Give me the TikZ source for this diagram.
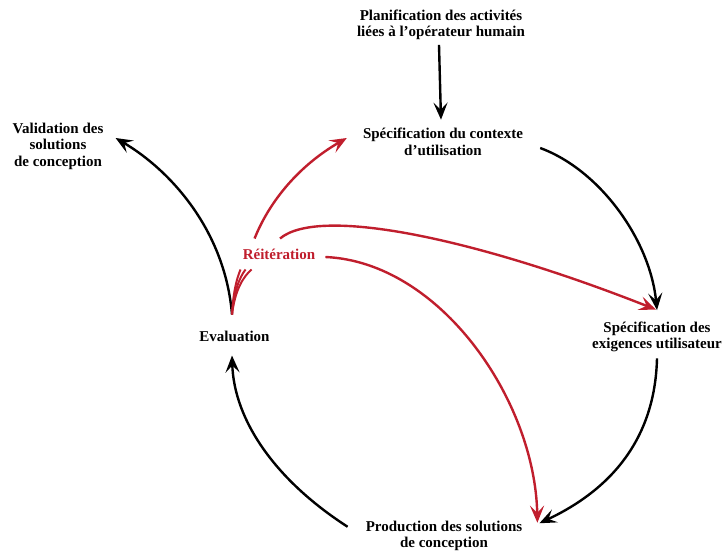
\documentclass[tikz,border=0pt]{standalone}
\usepackage{fontspec}
\setmainfont{Liberation Serif}
\usetikzlibrary{arrows.meta}
\definecolor{reitc}{RGB}{192,30,45}
\begin{document}
\begin{tikzpicture}[x=1pt,y=-1pt,
  lbl/.style={font=\bfseries\fontsize{15}{16.5}\selectfont, align=center, inner sep=0pt},
  arr/.style={line width=2.4pt, -{Stealth[length=17pt,width=14pt,inset=7pt]}},
  redarr/.style={arr, draw=reitc},
  redln/.style={line width=2pt, draw=reitc},
]
\useasboundingbox (0,0) rectangle (724,554);
\node[lbl] (plan) at (441,25) {Planification des activités\\liées à l’opérateur humain};
\node[lbl] (ctx) at (443,142) {Spécification du contexte\\d’utilisation};
\node[lbl] (exi) at (657,337) {Spécification des\\exigences utilisateur};
\node[lbl] (prod) at (444,536) {Production des solutions\\de conception};
\node[lbl] (eval) at (234.5,336) {Evaluation};
\node[lbl] (valid) at (58,146) {Validation des\\solutions\\de conception};
\node[lbl, text=reitc, inner sep=10pt] (reit) at (279,254) {Réitération};
% black cycle
\draw[arr] ([xshift=-2pt,yshift=-4.5pt]plan.south) -- ([xshift=-2pt,yshift=8.5pt]ctx.north);
\draw[arr] ([xshift=17pt,yshift=-6pt]ctx.east) .. controls (600,170) and (650,240) .. ([yshift=11.5pt]exi.north);
\draw[arr] ([yshift=-6pt]exi.south) .. controls (655,440) and (610,490) .. ([xshift=17pt,yshift=-2.5pt]prod.north east);
\draw[arr] ([xshift=-18pt,yshift=-6pt]prod.north west) .. controls (275,480) and (234,420) .. ([xshift=-2.5pt,yshift=-14pt]eval.south);
\draw[arr] ([xshift=-2.5pt,yshift=16pt]eval.north) .. controls (225,230) and (170,170) .. ([xshift=12pt,yshift=8pt]valid.east);
% red reiteration
\draw[redln] ([xshift=-2.5pt,yshift=16pt]eval.north) .. controls (233,295) and (236,280) .. ([xshift=8pt]reit.south west);
\draw[redln] ([xshift=-2.5pt,yshift=16pt]eval.north) .. controls (234,292) and (239,278) .. ([xshift=13pt]reit.south west);
\draw[redln] ([xshift=-2.5pt,yshift=16pt]eval.north) .. controls (235,290) and (243,277) .. ([xshift=19pt]reit.south west);
\draw[redarr] ([xshift=22pt]reit.north west) .. controls (270,200) and (300,165) .. ([xshift=-16pt,yshift=4pt]ctx.west);
\draw[redarr] ([xshift=1pt]reit.north) .. controls (320,205) and (480,240) .. ([xshift=-1pt,yshift=12pt]exi.north);
\draw[redarr] ([yshift=-3pt]reit.east) .. controls (440,262) and (535,400) .. ([xshift=15pt,yshift=-2pt]prod.north east);
\end{tikzpicture}
\end{document}
